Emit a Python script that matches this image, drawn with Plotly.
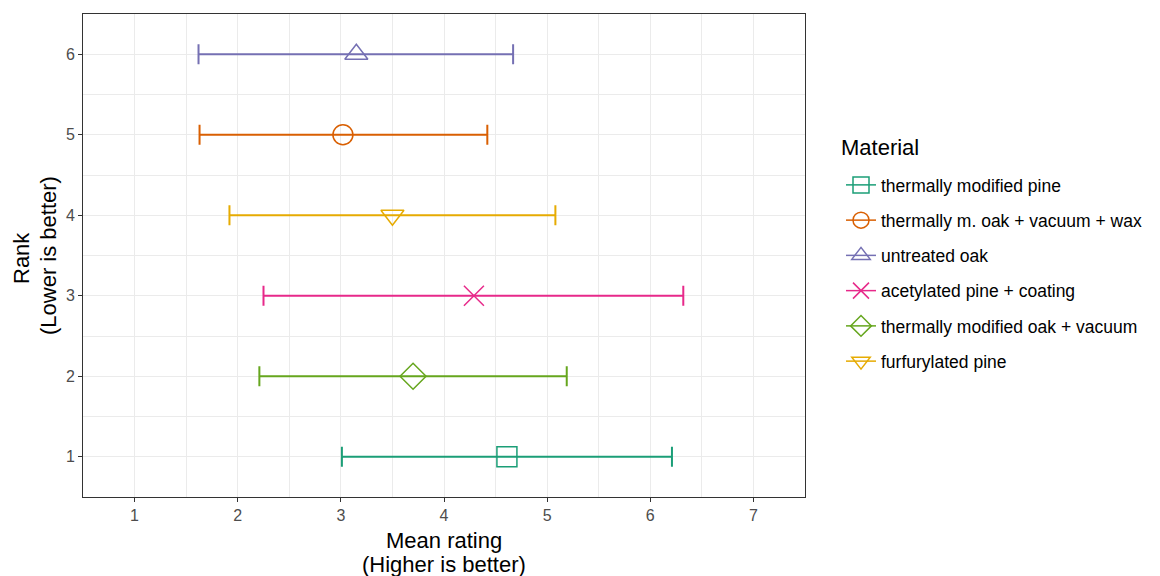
import plotly.graph_objects as go

materials = ["thermally modified pine", "thermally m. oak + vacuum + wax", "untreated oak",
             "acetylated pine + coating", "thermally modified oak + vacuum", "furfurylated pine"]
ranks = [1, 5, 6, 3, 2, 4]
means = [4.61, 3.02, 3.15, 4.29, 3.70, 3.50]
lower = [3.01, 1.63, 1.62, 2.25, 2.21, 1.92]
upper = [6.21, 4.42, 4.67, 6.32, 5.19, 5.08]
colors = ["#1B9E77", "#D95F02", "#7570B3", "#E7298A", "#66A61E", "#E6AB02"]
symbols = ["square-open", "circle-open", "triangle-up-open", "x-thin-open", "diamond-open", "triangle-down-open"]
x_ticks = [1, 2, 3, 4, 5, 6, 7]
y_ticks = [1, 2, 3, 4, 5, 6]

FONT = "Liberation Sans, Arial, sans-serif"

fig = go.Figure()
for i, m in enumerate(materials):
    fig.add_trace(go.Scatter(
        x=[means[i]], y=[ranks[i]], name=m, legendgroup=m,
        mode="lines+markers",
        line=dict(color=colors[i], width=1.5),
        marker=dict(symbol=symbols[i], size=20, color=colors[i],
                    line=dict(color=colors[i], width=1.5)),
        error_x=dict(type="data", symmetric=False,
                     array=[upper[i] - means[i]], arrayminus=[means[i] - lower[i]],
                     color=colors[i], thickness=2, width=10),
        hoverinfo="skip",
    ))

axis_common = dict(
    showline=True, linecolor="#333333", linewidth=1, mirror=True,
    ticks="outside", ticklen=4, tickcolor="#333333", tickwidth=1,
    tickfont=dict(family=FONT, size=16, color="#4D4D4D"),
    showgrid=True, gridcolor="#EBEBEB", gridwidth=1.1,
    zeroline=False, automargin=False,
)

fig.update_xaxes(
    range=[0.5, 7.5], tickvals=x_ticks, ticktext=[str(v) for v in x_ticks],
    minor=dict(dtick=0.5, tick0=0.5, showgrid=True, gridcolor="#EBEBEB", gridwidth=0.6, ticks=""),
    **axis_common,
)
fig.update_yaxes(
    range=[0.5, 6.5], tickvals=y_ticks, ticktext=[str(v) for v in y_ticks],
    minor=dict(dtick=0.5, tick0=0.5, showgrid=True, gridcolor="#EBEBEB", gridwidth=0.6, ticks=""),
    **axis_common,
)

# plot area in pixels: x 83..805, y 14..497
title_font = dict(family=FONT, size=22, color="#000000")
annotations = [
    dict(text="Mean rating", x=0.5, y=(497 - 540) / 483, xref="paper", yref="paper",
         xanchor="center", yanchor="middle", showarrow=False, font=title_font),
    dict(text="(Higher is better)", x=0.5, y=(497 - 564) / 483, xref="paper", yref="paper",
         xanchor="center", yanchor="middle", showarrow=False, font=title_font),
    dict(text="Rank", x=(21 - 83) / 722, y=(497 - 258) / 483, xref="paper", yref="paper",
         xanchor="center", yanchor="middle", showarrow=False, textangle=-90, font=title_font),
    dict(text="(Lower is better)", x=(48 - 83) / 722, y=(497 - 256) / 483, xref="paper", yref="paper",
         xanchor="center", yanchor="middle", showarrow=False, textangle=-90, font=title_font),
    dict(text="Material", x=(839 - 83) / 722, y=(497 - 147) / 483, xref="paper", yref="paper",
         xanchor="left", yanchor="middle", showarrow=False, font=title_font),
]

fig.update_layout(
    width=1160, height=576,
    margin=dict(l=83, r=355, t=14, b=79),
    paper_bgcolor="white", plot_bgcolor="white",
    font=dict(family=FONT),
    annotations=annotations,
    legend=dict(
        font=dict(family=FONT, size=17.5, color="#000000"),
        x=(841 - 83) / 722, xanchor="left", y=(497 - 167) / 483, yanchor="top",
        tracegroupgap=9.5, itemwidth=30,
        bgcolor="rgba(0,0,0,0)",
    ),
    showlegend=True,
)

fig.write_html("out.html", config={"displayModeBar": False},
               post_script="document.body.style.margin='0px';document.body.style.overflow='hidden';")
